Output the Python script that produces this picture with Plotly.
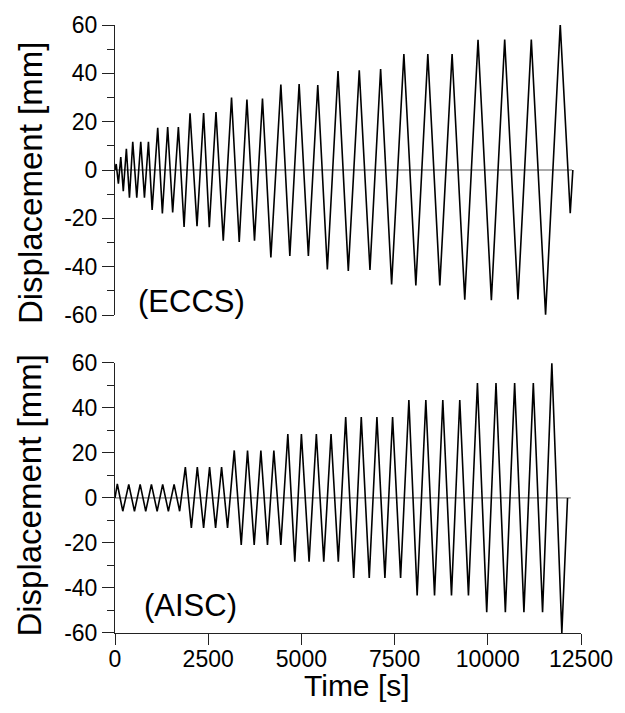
import plotly.graph_objects as go

# ---- data ----
eccs_time = [0, 32, 91, 155, 222, 305, 388, 476, 584, 691, 790, 897, 996, 1146, 1271, 1413, 1547, 1700,
             1853, 2013, 2200, 2377, 2529, 2709, 2904, 3126, 3332, 3539, 3742, 3956, 4181, 4449, 4690,
             4939, 5187, 5439, 5696, 5982, 6258, 6552, 6839, 7125, 7420, 7749, 8070, 8391, 8713, 9042,
             9382, 9738, 10096, 10453, 10809, 11167, 11550, 11943, 12211, 12281]
eccs_disp = [0, 2.5, -5.7, 5.4, -8.8, 8.8, -11.5, 11.7, -11.5, 11.7, -11.5, 11.7, -16.5, 17.5, -18, 17.8,
             -17.6, 17.8, -23.6, 23.5, -23.2, 23.6, -23.7, 24, -29.3, 30, -29.8, 29.2, -29.3, 29.6, -36.2,
             35.4, -35.6, 35.6, -35.6, 35.2, -41.2, 41, -41.8, 41.3, -41.4, 41.8, -47.4, 48, -47.8, 48,
             -47.8, 48, -53.7, 53.9, -53.9, 54, -53.6, 54, -59.9, 60.2, -17.9, 0]

aisc_time = [0, 62, 209, 369, 522, 675, 824, 977, 1130, 1279, 1432, 1585, 1734, 1887, 2048, 2208, 2377,
             2537, 2698, 2859, 3019, 3199, 3386, 3555, 3734, 3913, 4090, 4261, 4449, 4636, 4823, 5000,
             5206, 5401, 5600, 5795, 5990, 6188, 6403, 6606, 6820, 7026, 7240, 7446, 7661, 7883, 8105,
             8338, 8571, 8793, 9026, 9248, 9481, 9722, 9971, 10220, 10471, 10720, 10969, 11221, 11469,
             11718, 11986, 12139]
aisc_disp = [0, 6.2, -5.9, 6, -5.9, 6, -5.9, 6, -5.9, 6, -5.9, 6, -5.9, 13.7, -13.3, 13.7, -13.3, 13.7,
             -13.3, 13.7, -13.3, 21.1, -20.9, 21.1, -20.9, 21.1, -20.9, 21.1, -20.9, 28.4, -28.3, 28.4,
             -28.3, 28.4, -28.3, 28.4, -28.3, 35.9, -35.6, 35.9, -35.6, 35.9, -35.6, 35.9, -35.6, 43.5,
             -43.3, 43.5, -43.3, 43.5, -43.3, 43.5, -43.3, 51, -50.8, 51, -50.8, 51, -50.8, 51, -50.8,
             59.8, -60, 0]

eccs_zero_end = 12260
aisc_zero_end = 12227

x_ticks = [0, 2500, 5000, 7500, 10000, 12500]
x_tick_labels = ["0", "2500", "5000", "7500", "10000", "12500"]
y_ticks = [-60, -40, -20, 0, 20, 40, 60]
y_tick_labels = ["-60", "-40", "-20", "0", "20", "40", "60"]
panel_labels = ["(ECCS)", "(AISC)"]
y_title = "Displacement [mm]"
x_title = "Time [s]"

FONT = "Liberation Sans, Arial, Helvetica, sans-serif"
LINE = "#000000"
AX = "#222222"

fig = go.Figure()

# top panel (ECCS)
fig.add_trace(go.Scatter(x=[0, eccs_zero_end], y=[0, 0], mode="lines",
                         line=dict(color="#555555", width=1), xaxis="x2", yaxis="y2",
                         showlegend=False, hoverinfo="skip"))
fig.add_trace(go.Scatter(x=eccs_time, y=eccs_disp, mode="lines",
                         line=dict(color=LINE, width=1.6), xaxis="x2", yaxis="y2",
                         showlegend=False))
# bottom panel (AISC)
fig.add_trace(go.Scatter(x=[0, aisc_zero_end], y=[0, 0], mode="lines",
                         line=dict(color="#555555", width=1), xaxis="x", yaxis="y",
                         showlegend=False, hoverinfo="skip"))
fig.add_trace(go.Scatter(x=aisc_time, y=aisc_disp, mode="lines",
                         line=dict(color=LINE, width=1.6), xaxis="x", yaxis="y",
                         showlegend=False))

yax = dict(range=[-60, 60], tickvals=y_ticks, ticktext=y_tick_labels, ticks="outside",
           ticklen=12, tickwidth=1, tickcolor=AX, showline=True, linecolor=AX, linewidth=1,
           showgrid=False, zeroline=False, tickfont=dict(size=23, color="black", family=FONT),
           minor=dict(dtick=10, tick0=0, ticks="outside", ticklen=7, tickcolor=AX, showgrid=False))

top_dom = [0.523, 1.0]
bot_dom = [0.0, 0.4443]

fig.update_layout(
    width=625, height=713,
    margin=dict(l=115, r=43, t=23, b=80),
    paper_bgcolor="white", plot_bgcolor="white",
    font=dict(family=FONT, color="black"),
    xaxis=dict(range=[0, 12500], domain=[0, 1], anchor="y", tickvals=x_ticks,
               ticktext=x_tick_labels, ticks="outside", ticklen=11, tickwidth=1, tickcolor=AX,
               showline=True, linecolor=AX, linewidth=1, showgrid=False, zeroline=False,
               ticklabelstandoff=-6,
               tickfont=dict(size=23, color="black", family=FONT)),
    xaxis2=dict(range=[0, 12500], domain=[0, 1], anchor="y2", matches="x", visible=False),
    yaxis=dict(domain=bot_dom, anchor="x", **yax),
    yaxis2=dict(domain=top_dom, anchor="x2", **yax),
    annotations=[
        dict(text=panel_labels[0], x=575, y=-54.5, xref="x2", yref="y2", xanchor="left",
             yanchor="middle", showarrow=False, font=dict(size=31, color="black", family=FONT)),
        dict(text=panel_labels[1], x=728, y=-48, xref="x", yref="y", xanchor="left",
             yanchor="middle", showarrow=False, font=dict(size=31, color="black", family=FONT)),
        dict(text=y_title, x=0, y=0.74, xref="paper", yref="paper", xanchor="center",
             yanchor="middle", xshift=-85, textangle=-90, showarrow=False,
             font=dict(size=33, color="black", family=FONT)),
        dict(text=y_title, x=0, y=0.226, xref="paper", yref="paper", xanchor="center",
             yanchor="middle", xshift=-85, textangle=-90, showarrow=False,
             font=dict(size=33, color="black", family=FONT)),
        dict(text=x_title, x=0.52, y=-0.087, xref="paper", yref="paper", xanchor="center",
             yanchor="middle", showarrow=False, font=dict(size=30, color="black", family=FONT)),
    ],
)

# remove the default page margin so the figure sits at the window's corner
fig.write_html("out.html", config={"displayModeBar": False},
               post_script="document.body.style.margin='0px';document.body.style.overflow='hidden';")
